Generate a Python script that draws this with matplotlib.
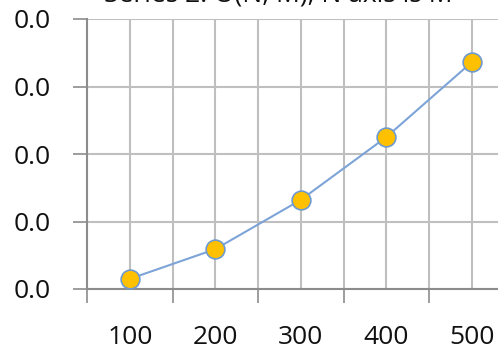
import matplotlib.pyplot as plt
import numpy as np

# problem size vs run time (seconds)
sizes = [100, 200, 300, 400, 500]
times = [0.0015, 0.0059, 0.0132, 0.0225, 0.0336]
y_ticks = [0.0, 0.01, 0.02, 0.03, 0.04]
title = "Series 2: O(N, M), N axis is M"

plt.rcParams['font.family'] = ['Open Sans', 'DejaVu Sans']

grid_col = '#BFBFBF'
axis_col = '#8C8C8C'
text_col = '#111111'

fig = plt.figure(figsize=(4.98, 3.54), dpi=100)
W, H = 498.0, 354.0
ax = fig.add_axes([87 / W, (H - 289) / H, 427.5 / W, 270 / H])

ax.plot(sizes, times, color='#7DA4D8', lw=1.5, zorder=3,
        marker='o', ms=13.5, mfc='#FFC000', mec='#6F9AD0', mew=1.2)

ax.set_xlim(50, 550)
ax.set_ylim(0, 0.04)

# category labels sit between the tick marks
ax.set_xticks(sizes)
ax.set_xticklabels([str(s) for s in sizes])
ax.set_xticks([s - 50 for s in sizes], minor=True)
ax.tick_params(axis='x', which='major', length=0, pad=26, labelsize=19, labelcolor=text_col)
ax.tick_params(axis='x', which='minor', length=10, width=1.2, color=axis_col, direction='out')

ax.set_yticks(y_ticks)
ax.set_yticklabels(['%.1f' % v for v in y_ticks])
ax.tick_params(axis='y', length=10, width=1.2, color=axis_col, pad=16, labelsize=19, labelcolor=text_col)

ax.grid(True, which='both', axis='x', color=grid_col, lw=1.5)
ax.grid(True, which='major', axis='y', color=grid_col, lw=1.5)
ax.set_axisbelow(True)

for side in ['top', 'right']:
    ax.spines[side].set_visible(False)
ax.spines['left'].set_color(axis_col)
ax.spines['bottom'].set_color(axis_col)
ax.spines['left'].set_linewidth(1.5)
ax.spines['bottom'].set_linewidth(1.5)

fig.text(278 / W, 1 - 1 / H, title, ha='center', va='baseline', fontsize=19, color=text_col)

fig.savefig('out.png', dpi=100)
